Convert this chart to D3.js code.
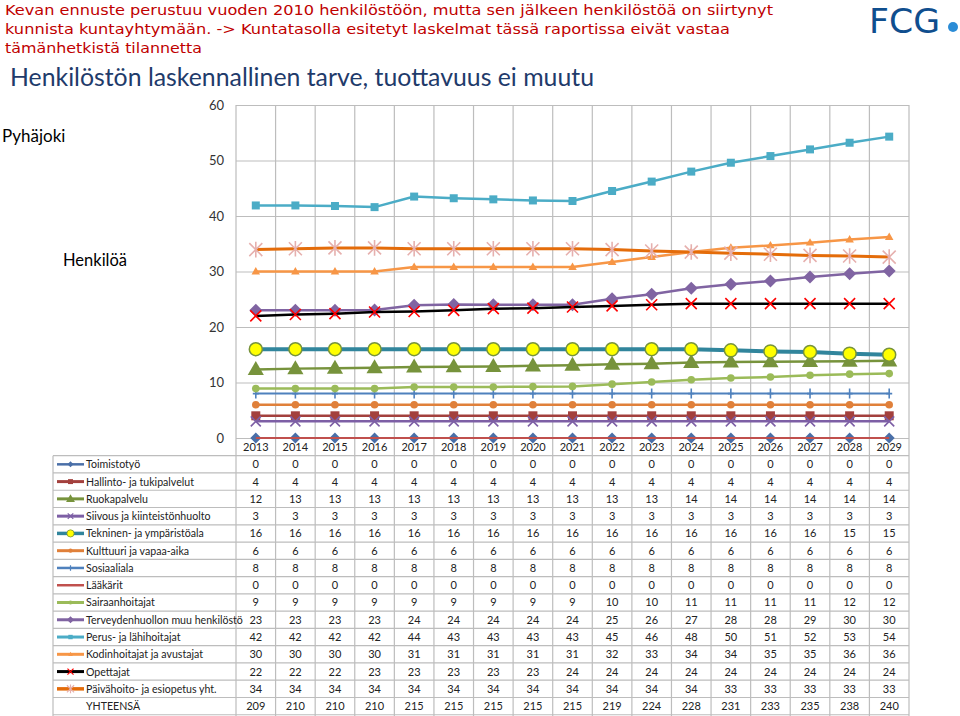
<!DOCTYPE html>
<html><head><meta charset="utf-8">
<script src="https://cdn.jsdelivr.net/npm/d3@7"></script>
<style>body{margin:0;background:#fff;}svg{display:block;}</style>
</head><body>
<svg id="c" width="960" height="716"></svg>
<script>
// ---------- DATA ----------
const years = ["2013","2014","2015","2016","2017","2018","2019","2020","2021","2022","2023","2024","2025","2026","2027","2028","2029"];
const yTicks = [0,10,20,30,40,50,60];
const seriesNames = ["Toimistotyö","Hallinto- ja tukipalvelut","Ruokapalvelu","Siivous ja kiinteistönhuolto","Tekninen- ja ympäristöala","Kulttuuri ja vapaa-aika","Sosiaaliala","Lääkärit","Sairaanhoitajat","Terveydenhuollon muu henkilöstö","Perus- ja lähihoitajat","Kodinhoitajat ja avustajat","Opettajat","Päivähoito- ja esiopetus yht."];
const toimistotyo     = [0,0,0,0,0,0,0,0,0,0,0,0,0,0,0,0,0];
const hallinto        = [4,4,4,4,4,4,4,4,4,4,4,4,4,4,4,4,4];
const ruokapalvelu    = [12.35,12.5,12.55,12.65,12.8,12.85,12.9,13.0,13.1,13.3,13.4,13.6,13.7,13.75,13.8,13.85,13.9];
const siivous         = [3,3,3,3,3,3,3,3,3,3,3,3,3,3,3,3,3];
const tekninen        = [16,16,16,16,16,16,16,16,16,16,16,16,15.8,15.6,15.5,15.2,15.0];
const kulttuuri       = [6,6,6,6,6,6,6,6,6,6,6,6,6,6,6,6,6];
const sosiaaliala     = [8,8,8,8,8,8,8,8,8,8,8,8,8,8,8,8,8];
const laakarit        = [0,0,0,0,0,0,0,0,0,0,0,0,0,0,0,0,0];
const sairaanhoitajat = [8.9,8.9,8.9,8.9,9.2,9.2,9.2,9.25,9.3,9.7,10.1,10.5,10.8,11.0,11.3,11.5,11.6];
const terveydenhuolto = [23,23,23,23.05,23.9,24.05,24,24,24,25.1,25.9,27,27.7,28.3,29,29.6,30.1];
const perushoitajat   = [41.9,41.9,41.8,41.6,43.5,43.2,43.0,42.8,42.7,44.5,46.2,48.0,49.6,50.8,52.0,53.2,54.3];
const kodinhoitajat   = [30,30,30,30,30.8,30.8,30.8,30.8,30.8,31.7,32.6,33.5,34.3,34.7,35.2,35.75,36.2];
const opettajat       = [22,22.25,22.4,22.7,22.8,23,23.3,23.4,23.6,23.8,24,24.2,24.2,24.2,24.2,24.2,24.2];
const paivahoito      = [33.95,34.1,34.25,34.25,34.1,34.1,34.1,34.1,34.1,33.95,33.7,33.5,33.3,33.1,32.9,32.8,32.6];
const yhteensa        = [209,210,210,210,215,215,215,215,215,219,224,228,231,233,235,238,240];

// ---------- STYLES ----------
const seriesValues = [toimistotyo,hallinto,ruokapalvelu,siivous,tekninen,kulttuuri,sosiaaliala,laakarit,sairaanhoitajat,terveydenhuolto,perushoitajat,kodinhoitajat,opettajat,paivahoito];
const styles = [
 {c:"#4A6FA8", w:2,   m:"diamond",  mc:"#4A6FA8", s:5.5},
 {c:"#A3403D", w:2.5, m:"square",   mc:"#A3403D", s:4.5},
 {c:"#77933C", w:2.5, m:"triangle", mc:"#77933C", s:8.5},
 {c:"#7D5FA5", w:2.5, m:"x",        mc:"#7D5FA5", s:5},
 {c:"#31859C", w:4,   m:"circle",   mc:"#FFFF00", s:6.5, ms:"#77933C"},
 {c:"#E0803A", w:2.5, m:"circle",   mc:"#E0803A", s:3.8},
 {c:"#4F81BD", w:2,   m:"plus",     mc:"#4F81BD", s:5},
 {c:"#C0504D", w:2,   m:"none"},
 {c:"#9BBB59", w:2.5, m:"circle",   mc:"#9BBB59", s:3.8},
 {c:"#8064A2", w:2.5, m:"diamond",  mc:"#8064A2", s:6.5},
 {c:"#4BACC6", w:2.5, m:"square",   mc:"#4BACC6", s:4},
 {c:"#F79646", w:2.5, m:"triangle", mc:"#F79646", s:4.5},
 {c:"#000000", w:2.5, m:"x",        mc:"#FF0000", s:5.5},
 {c:"#E46C0A", w:3,   m:"asterisk", mc:"#E6B0AE", s:6.5}
];

const svg = d3.select("#c");
const L = 236, R = 909, T = 105, B = 438;
const x = d3.scaleBand().domain(years).range([L, R]);
const y = d3.scaleLinear().domain([0, 60]).range([B, T]);
const rowH = 17.27, tableTop = 455.7, tableLeft = 53;
const grid = "#BDBDBD";

function markerPath(type, s) {
  switch (type) {
    case "diamond": return `M0,${-s}L${s},0L0,${s}L${-s},0Z`;
    case "square": return `M${-s},${-s}H${s}V${s}H${-s}Z`;
    case "triangle": return `M0,${-s}L${s*0.95},${s*0.65}L${-s*0.95},${s*0.65}Z`;
    case "circle": return d3.arc()({innerRadius:0, outerRadius:s, startAngle:0, endAngle:2*Math.PI});
    case "x": return `M${-s},${-s}L${s},${s}M${-s},${s}L${s},${-s}`;
    case "asterisk": return `M${-s},${-s}L${s},${s}M${-s},${s}L${s},${-s}M0,${-s*1.2}L0,${s*1.2}`;
    case "plus": return `M0,${-s}L0,${s}M${-s*0.6},0L${s*0.6},0`;
  }
  return "";
}
const strokeOnly = t => t === "x" || t === "asterisk" || t === "plus";

// ---------- HEADER TEXTS ----------
const titleLines = [
 {t:"Kevan ennuste perustuu vuoden 2010 henkilöstöön, mutta sen jälkeen henkilöstöä on siirtynyt", y:15, w:768},
 {t:"kunnista kuntayhtymään. -> Kuntatasolla esitetyt laskelmat tässä raportissa eivät vastaa", y:34, w:725},
 {t:"tämänhetkistä tilannetta", y:53, w:197}
];
svg.selectAll("text.title").data(titleLines).join("text")
  .attr("x", 5).attr("y", d => d.y).text(d => d.t)
  .attr("font-family", "DejaVu Sans, Verdana, sans-serif").attr("font-size", 14.5)
  .attr("fill", "#C00000").attr("textLength", d => d.w).attr("lengthAdjust", "spacingAndGlyphs");

svg.append("text").attr("x", 10).attr("y", 86)
  .text("Henkilöstön laskennallinen tarve, tuottavuus ei muutu")
  .attr("font-family", "Lato, sans-serif").attr("font-size", 25).attr("fill", "#1F3B6B")
  .attr("textLength", 584).attr("lengthAdjust", "spacingAndGlyphs");

// FCG logo
svg.append("text").attr("x", 869).attr("y", 33).text("FCG")
  .attr("font-family", "DejaVu Sans, sans-serif").attr("font-size", 34.5).attr("fill", "#0F4E8E")
  .attr("textLength", 71).attr("lengthAdjust", "spacingAndGlyphs");
svg.append("circle").attr("cx", 953).attr("cy", 27).attr("r", 5).attr("fill", "#2B8CD6");

svg.append("text").attr("x", 2).attr("y", 142).text("Pyhäjoki")
  .attr("font-family", "Lato, sans-serif").attr("font-size", 17).attr("fill", "#000");
svg.append("text").attr("x", 63).attr("y", 266).text("Henkilöä")
  .attr("font-family", "Lato, sans-serif").attr("font-size", 16.5).attr("fill", "#000");

// ---------- GRID ----------
const yAxis = d3.axisLeft(y).tickValues(yTicks).tickSize(-(R - L)).tickPadding(12);
const gy = svg.append("g").attr("transform", `translate(${L},0)`).call(yAxis);
gy.select(".domain").remove();
gy.selectAll(".tick line").attr("stroke", grid).attr("stroke-width", 1.2);
gy.selectAll(".tick text").attr("font-family", "Lato, sans-serif").attr("font-size", 13).attr("fill", "#333");

// vertical gridlines at band boundaries, running through the table
const bounds = years.map(d => x(d)).concat([R]);
svg.append("g").selectAll("line").data(bounds).join("line")
  .attr("x1", d => d).attr("x2", d => d).attr("y1", T).attr("y2", 716)
  .attr("stroke", grid).attr("stroke-width", 1.2);

// year labels (table header)
svg.append("g").selectAll("text").data(years).join("text")
  .attr("x", d => x(d) + x.bandwidth()/2).attr("y", 451).attr("text-anchor", "middle")
  .text(d => d).attr("font-family", "Lato, sans-serif").attr("font-size", 11).attr("fill", "#222");

// ---------- TABLE ----------
const nRows = seriesNames.length + 1;
svg.append("g").selectAll("line").data(d3.range(nRows + 1)).join("line")
  .attr("x1", tableLeft).attr("x2", R)
  .attr("y1", i => tableTop + i * rowH).attr("y2", i => tableTop + i * rowH)
  .attr("stroke", grid).attr("stroke-width", 1.2);
svg.append("line").attr("x1", tableLeft).attr("x2", tableLeft).attr("y1", tableTop).attr("y2", 716)
  .attr("stroke", grid).attr("stroke-width", 1.2);

const rows = svg.append("g").selectAll("g").data(seriesNames).join("g")
  .attr("transform", (d, i) => `translate(0,${tableTop + (i + 0.5) * rowH})`);
rows.append("line").attr("x1", 57).attr("x2", 84).attr("y1", 0).attr("y2", 0)
  .attr("stroke", (d, i) => styles[i].c).attr("stroke-width", (d, i) => Math.min(styles[i].w + 0.5, 3.5));
rows.append("path").attr("transform", "translate(70.5,0)")
  .attr("d", (d, i) => markerPath(styles[i].m, (styles[i].s || 0) * 0.55))
  .attr("fill", (d, i) => strokeOnly(styles[i].m) ? "none" : styles[i].mc)
  .attr("stroke", (d, i) => styles[i].ms || (strokeOnly(styles[i].m) ? styles[i].mc : "none"))
  .attr("stroke-width", (d, i) => styles[i].ms ? 0.8 : 1.2);
rows.append("text").attr("x", 86).attr("y", 4).text(d => d)
  .attr("font-family", "Lato, sans-serif").attr("font-size", 10.6).attr("fill", "#222");
rows.each(function(d, i) {
  d3.select(this).selectAll("text.v").data(seriesValues[i]).join("text").attr("class", "v")
    .attr("x", (v, j) => x(years[j]) + x.bandwidth()/2).attr("y", 4).attr("text-anchor", "middle")
    .text(v => Math.round(v))
    .attr("font-family", "Lato, sans-serif").attr("font-size", 11).attr("fill", "#222");
});
const totRow = svg.append("g").attr("transform", `translate(0,${tableTop + (nRows - 0.5) * rowH})`);
totRow.append("text").attr("x", 86).attr("y", 4).text("YHTEENSÄ")
  .attr("font-family", "Lato, sans-serif").attr("font-size", 10.6).attr("fill", "#222");
totRow.selectAll("text.v").data(yhteensa).join("text").attr("class", "v")
  .attr("x", (v, j) => x(years[j]) + x.bandwidth()/2).attr("y", 4).attr("text-anchor", "middle")
  .text(v => v).attr("font-family", "Lato, sans-serif").attr("font-size", 11).attr("fill", "#222");

// ---------- SERIES ----------
const line = d3.line().x((v, j) => x(years[j]) + x.bandwidth()/2).y(v => y(v));
const plot = svg.append("g");
seriesValues.forEach((vals, i) => {
  const st = styles[i];
  const g = plot.append("g");
  g.append("path").attr("d", line(vals)).attr("fill", "none")
    .attr("stroke", st.c).attr("stroke-width", st.w).attr("stroke-linejoin", "round");
  if (st.m !== "none") {
    g.selectAll("path.m").data(vals).join("path").attr("class", "m")
      .attr("transform", (v, j) => `translate(${x(years[j]) + x.bandwidth()/2},${y(v)})`)
      .attr("d", markerPath(st.m, st.s))
      .attr("fill", strokeOnly(st.m) ? "none" : st.mc)
      .attr("stroke", st.ms || (strokeOnly(st.m) ? st.mc : "none"))
      .attr("stroke-width", st.ms ? 1.5 : (strokeOnly(st.m) ? 1.6 : 0));
  }
});
</script>
</body></html>
